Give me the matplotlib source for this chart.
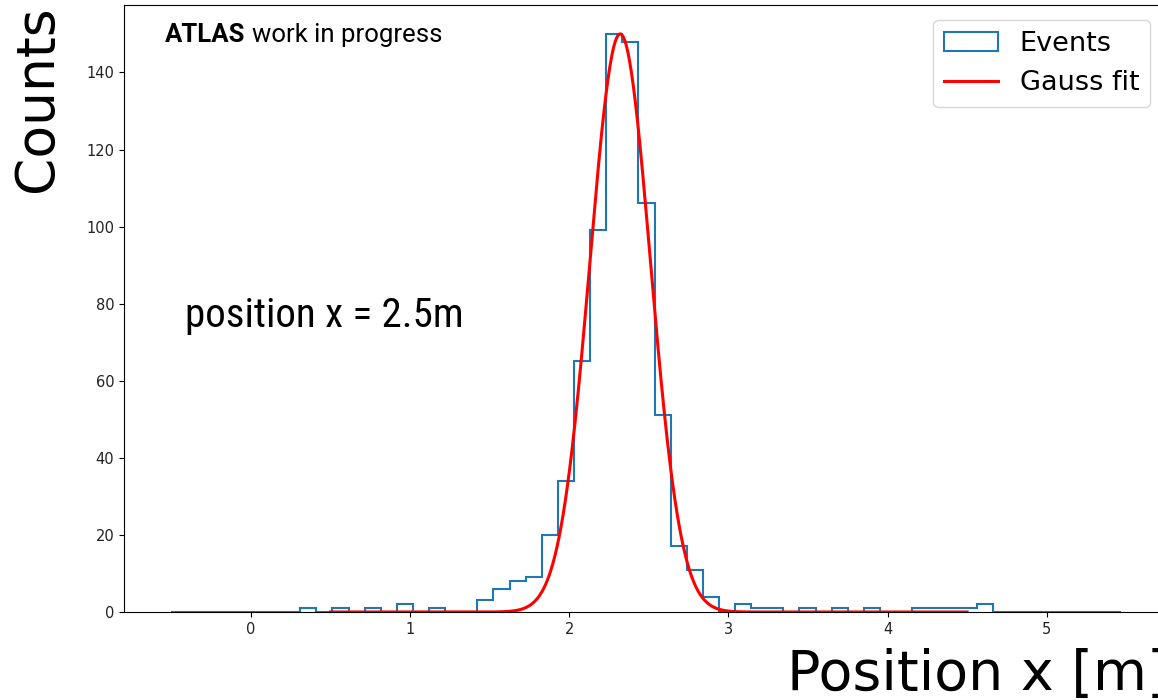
import numpy as np
import matplotlib
matplotlib.use("Agg")
import matplotlib.pyplot as plt

# histogram binning (59 bins between data min and max)
bin_lo = -0.5
bin_hi = 5.47
n_bins = 59

counts = [0, 0, 0, 0, 0, 0, 0, 0,
          1, 0, 1, 0, 1, 0, 2, 0, 1, 0, 0,
          3, 6, 8, 9, 20, 34, 65, 99, 150, 148, 106, 51, 17, 11, 4,
          0, 2, 1, 1, 0, 1, 0, 1, 0, 1, 0, 0, 1, 1, 1, 1, 2,
          0, 0, 0, 0, 0, 0, 0, 0]

# gauss fit parameters
amp = 150.0
mu = 2.32
sigma = 0.19
fit_lo, fit_hi = 0.5, 4.5

edges = np.linspace(bin_lo, bin_hi, n_bins + 1)
centers = 0.5 * (edges[:-1] + edges[1:])

fig = plt.figure(figsize=(11.58, 7.0), dpi=100)
ax = fig.add_axes([0.107, 0.1257, 0.9025, 0.8672])

ax.hist(centers, bins=edges, weights=counts, histtype='step', lw=1.5,
        color='#1f77b4', label='Events')

xf = np.linspace(fit_lo, fit_hi, 600)
ax.plot(xf, amp * np.exp(-(xf - mu) ** 2 / (2 * sigma ** 2)), color='red', lw=2.2,
        label='Gauss fit')

ax.set_ylim(0, 157.5)
ax.set_xlim(bin_lo - 0.05 * (bin_hi - bin_lo), bin_hi + 0.05 * (bin_hi - bin_lo))
ax.tick_params(labelsize=10.5, labelcolor='#222222')

ax.set_xlabel('Position x [m]', fontsize=40, loc='right', labelpad=8)
ax.set_ylabel('Counts', fontsize=38.5, loc='top', labelpad=17)

ax.legend(fontsize=19.5, loc='upper right', bbox_to_anchor=(0.995, 0.998))

ax.text(0.0392, 0.939, 'ATLAS', transform=ax.transAxes, fontsize=18.5,
        fontweight='bold', family='Roboto', va='baseline')
ax.text(0.1225, 0.939, 'work in progress', transform=ax.transAxes, fontsize=18.5,
        family='Roboto', va='baseline')

ax.text(0.058, 0.47, 'position x = 2.5m', transform=ax.transAxes, fontsize=29.5,
        family=['Roboto Condensed', 'Roboto'], fontstretch='condensed',
        va='baseline')

fig.savefig('out.png', dpi=100)
